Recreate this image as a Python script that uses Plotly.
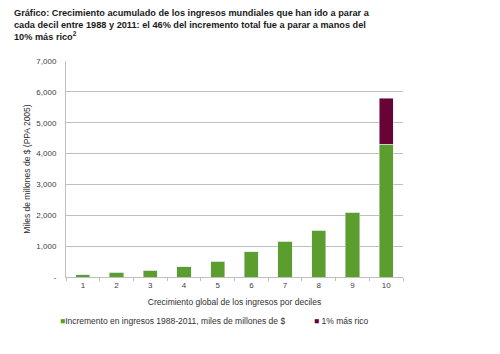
import plotly.graph_objects as go

deciles = ["1", "2", "3", "4", "5", "6", "7", "8", "9", "10"]
incremento = [80, 150, 225, 335, 505, 820, 1155, 1510, 2100, 4300]
top1 = [0, 0, 0, 0, 0, 0, 0, 0, 0, 1500]
tick_vals = [0, 1000, 2000, 3000, 4000, 5000, 6000, 7000]
tick_text = ["-", "1,000", "2,000", "3,000", "4,000", "5,000", "6,000", "7,000"]
series_names = ["Incremento en ingresos 1988-2011, miles de millones de $", "1% más rico"]

green = "#5B9E2E"
maroon = "#6A0335"

fig = go.Figure()
fig.add_trace(go.Bar(x=deciles, y=incremento, marker_color=green, name=series_names[0]))
fig.add_trace(go.Bar(x=deciles, y=top1, marker_color=maroon, name=series_names[1]))

fig.update_layout(
    barmode="stack",
    bargap=0.58,
    width=500, height=354,
    margin=dict(l=66, r=97, t=61, b=77, autoexpand=False),
    plot_bgcolor="white", paper_bgcolor="white",
    font=dict(family="Liberation Sans, Arial", size=8, color="#404040"),
    showlegend=False,
    hovermode=False,
)
fig.update_yaxes(range=[0, 7000], tickvals=tick_vals, ticktext=tick_text,
                 showgrid=True, gridcolor="#BFBFBF", gridwidth=1,
                 showline=True, linecolor="#BFBFBF", linewidth=1,
                 ticks="", zeroline=False, automargin=False, ticklabelstandoff=7,
                 title=dict(text="Miles de millones de $ (PPA 2005)",
                            font=dict(size=8.5, color="#303030"), standoff=4))
fig.update_xaxes(type="category", showline=True, linecolor="#BFBFBF", linewidth=1,
                 ticks="outside", tickson="boundaries", ticklen=3, tickcolor="#BFBFBF",
                 automargin=False,
                 title=dict(text="Crecimiento global de los ingresos por deciles",
                            font=dict(size=8.5, color="#303030"), standoff=10))

# legend drawn as text entries
fig.add_annotation(
    text=f"<span style='color:{green}'>■</span>{series_names[0]}",
    xref="paper", yref="paper", x=-0.025, y=-0.17, xanchor="left", yanchor="top",
    showarrow=False, font=dict(size=8.5, color="#303030"))
fig.add_annotation(
    text=f"<span style='color:{maroon}'>■</span> {series_names[1]}",
    xref="paper", yref="paper", x=0.73, y=-0.17, xanchor="left", yanchor="top",
    showarrow=False, font=dict(size=8.5, color="#303030"))

fig.add_annotation(
    text="<b>Gráfico: Crecimiento acumulado de los ingresos mundiales que han ido a parar a<br>"
         "cada decil entre 1988 y 2011: el 46% del incremento total fue a parar a manos del<br>"
         "10% más rico<sup>2</sup></b>",
    xref="paper", yref="paper", x=-0.16, y=1.0, xanchor="left", yanchor="bottom",
    yshift=17, align="left", showarrow=False,
    font=dict(family="Liberation Sans, Arial", size=9.2, color="#1a1a1a"))

fig.write_html("out.html")
